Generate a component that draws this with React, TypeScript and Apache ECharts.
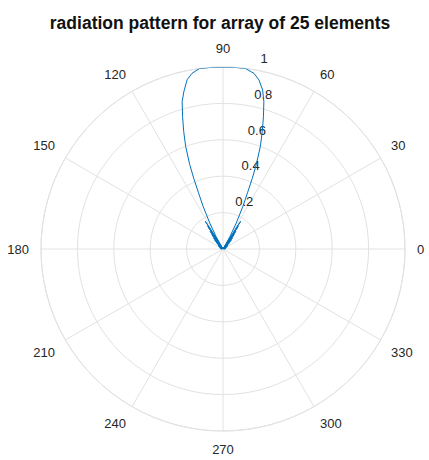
import { useEffect, useRef } from "react";
import * as echarts from "echarts";

const TITLE = "radiation pattern for array of 25 elements";

// Normalised array factor |AF| against direction (degrees, 0° = +x axis, counter-clockwise)
const rightSidelobeAngles = [
  0, 8, 15, 21, 27, 32, 36, 39, 41.5, 43.5, 45, 46.5, 48, 49.5, 51, 52, 53, 54, 55, 56, 57, 57.5, 58.2,
];
const rightSidelobeGain = [
  0.005, 0.015, 0.005, 0.02, 0.005, 0.03, 0.005, 0.035, 0.005, 0.05, 0.005, 0.065, 0.005, 0.08, 0.005,
  0.1, 0.005, 0.12, 0.005, 0.15, 0.005, 0.18, 0.005,
];

const mainLobeAngles = [
  59, 61, 63, 65, 66.5, 67.5, 68.5, 70, 71.5, 73, 74.5, 76, 78, 80, 83, 86, 90, 94, 97.5, 100,
  102, 104, 105.5, 107, 108.5, 110, 111.5, 112.5, 113.5, 115, 117, 119, 121,
];
const mainLobeGain = [
  0.02, 0.08, 0.16, 0.26, 0.34, 0.42, 0.5, 0.6, 0.68, 0.76, 0.84, 0.9, 0.95, 0.98, 1, 1, 1, 1, 1, 0.98,
  0.95, 0.89, 0.84, 0.76, 0.68, 0.6, 0.5, 0.42, 0.34, 0.26, 0.16, 0.08, 0.02,
];

const leftSidelobeAngles = [
  121.8, 122.5, 123, 124, 125, 126, 127, 128, 129, 130.5, 132, 133.5, 135, 136.5, 138.5, 141, 144, 148, 153, 159, 165, 172, 180,
];
const leftSidelobeGain = [
  0.005, 0.18, 0.005, 0.15, 0.005, 0.12, 0.005, 0.1, 0.005, 0.08, 0.005, 0.065, 0.005, 0.05, 0.005,
  0.035, 0.005, 0.03, 0.005, 0.02, 0.005, 0.015, 0.005,
];

// Axis ticks
const ANGLE_MIN = 0;
const ANGLE_MAX = 360;
const ANGLE_STEP = 30;
const R_MIN = 0;
const R_MAX = 1;
const R_STEP = 0.2;

const CENTER = [223, 249];
const RADIUS = 182;
const GRID = "#e2e2e2";
const LABEL = "#262626";
const FONT = "'Liberation Sans', Arial, Helvetica, sans-serif";

export default function App() {
  const ref = useRef<HTMLDivElement>(null);

  useEffect(() => {
    if (!ref.current) return;
    const chart = echarts.init(ref.current, null, { renderer: "svg" });

    const angles = [...rightSidelobeAngles, ...mainLobeAngles, ...leftSidelobeAngles];
    const gains = [...rightSidelobeGain, ...mainLobeGain, ...leftSidelobeGain];
    const data = angles.map((a, i) => [gains[i], a]);

    chart.setOption({
      animation: false,
      backgroundColor: "#ffffff",
      textStyle: { fontFamily: FONT },
      title: {
        text: TITLE,
        left: 220,
        textAlign: "center",
        top: 14,
        padding: 0,
        textStyle: { fontSize: 17.5, fontWeight: "bold", color: "#111", fontFamily: FONT },
      },
      polar: [
        { center: CENTER, radius: RADIUS },
        { center: CENTER, radius: RADIUS },
      ],
      angleAxis: [
        {
          polarIndex: 0,
          type: "value",
          min: ANGLE_MIN,
          max: ANGLE_MAX,
          interval: ANGLE_STEP,
          startAngle: 0,
          clockwise: false,
          axisLine: { show: true, lineStyle: { color: GRID, width: 1 } },
          axisTick: { show: false },
          splitLine: { show: true, lineStyle: { color: GRID, width: 1 } },
          axisLabel: {
            margin: 12,
            color: LABEL,
            fontSize: 13,
            fontFamily: FONT,
            formatter: (v: number) => (v >= ANGLE_MAX ? "" : String(v)),
          },
        },
        {
          polarIndex: 1,
          type: "value",
          min: ANGLE_MIN,
          max: ANGLE_MAX,
          startAngle: 80,
          show: false,
        },
      ],
      radiusAxis: [
        {
          polarIndex: 0,
          type: "value",
          min: R_MIN,
          max: R_MAX,
          interval: R_STEP,
          axisLine: { show: false },
          axisTick: { show: false },
          axisLabel: { show: false },
          splitLine: { show: true, lineStyle: { color: GRID, width: 1 } },
        },
        {
          polarIndex: 1,
          type: "value",
          min: R_MIN,
          max: R_MAX,
          interval: R_STEP,
          axisLine: { show: false },
          axisTick: { show: false },
          splitLine: { show: false },
          axisLabel: {
            margin: -6,
            align: "left",
            verticalAlign: "bottom",
            padding: [0, 0, 6, 0],
            showMinLabel: false,
            color: LABEL,
            fontSize: 13,
            fontFamily: FONT,
            formatter: (v: number) => String(Math.round(v * 10) / 10),
          },
        },
      ],
      series: [
        {
          type: "line",
          coordinateSystem: "polar",
          polarIndex: 0,
          data,
          showSymbol: false,
          symbol: "none",
          lineStyle: { color: "#0072BD", width: 1 },
          z: 5,
        },
      ],
    });

    return () => chart.dispose();
  }, []);

  return (
    <div
      ref={ref}
      style={{ position: "fixed", left: 0, top: 0, width: 429, height: 460, background: "#fff" }}
    />
  );
}
